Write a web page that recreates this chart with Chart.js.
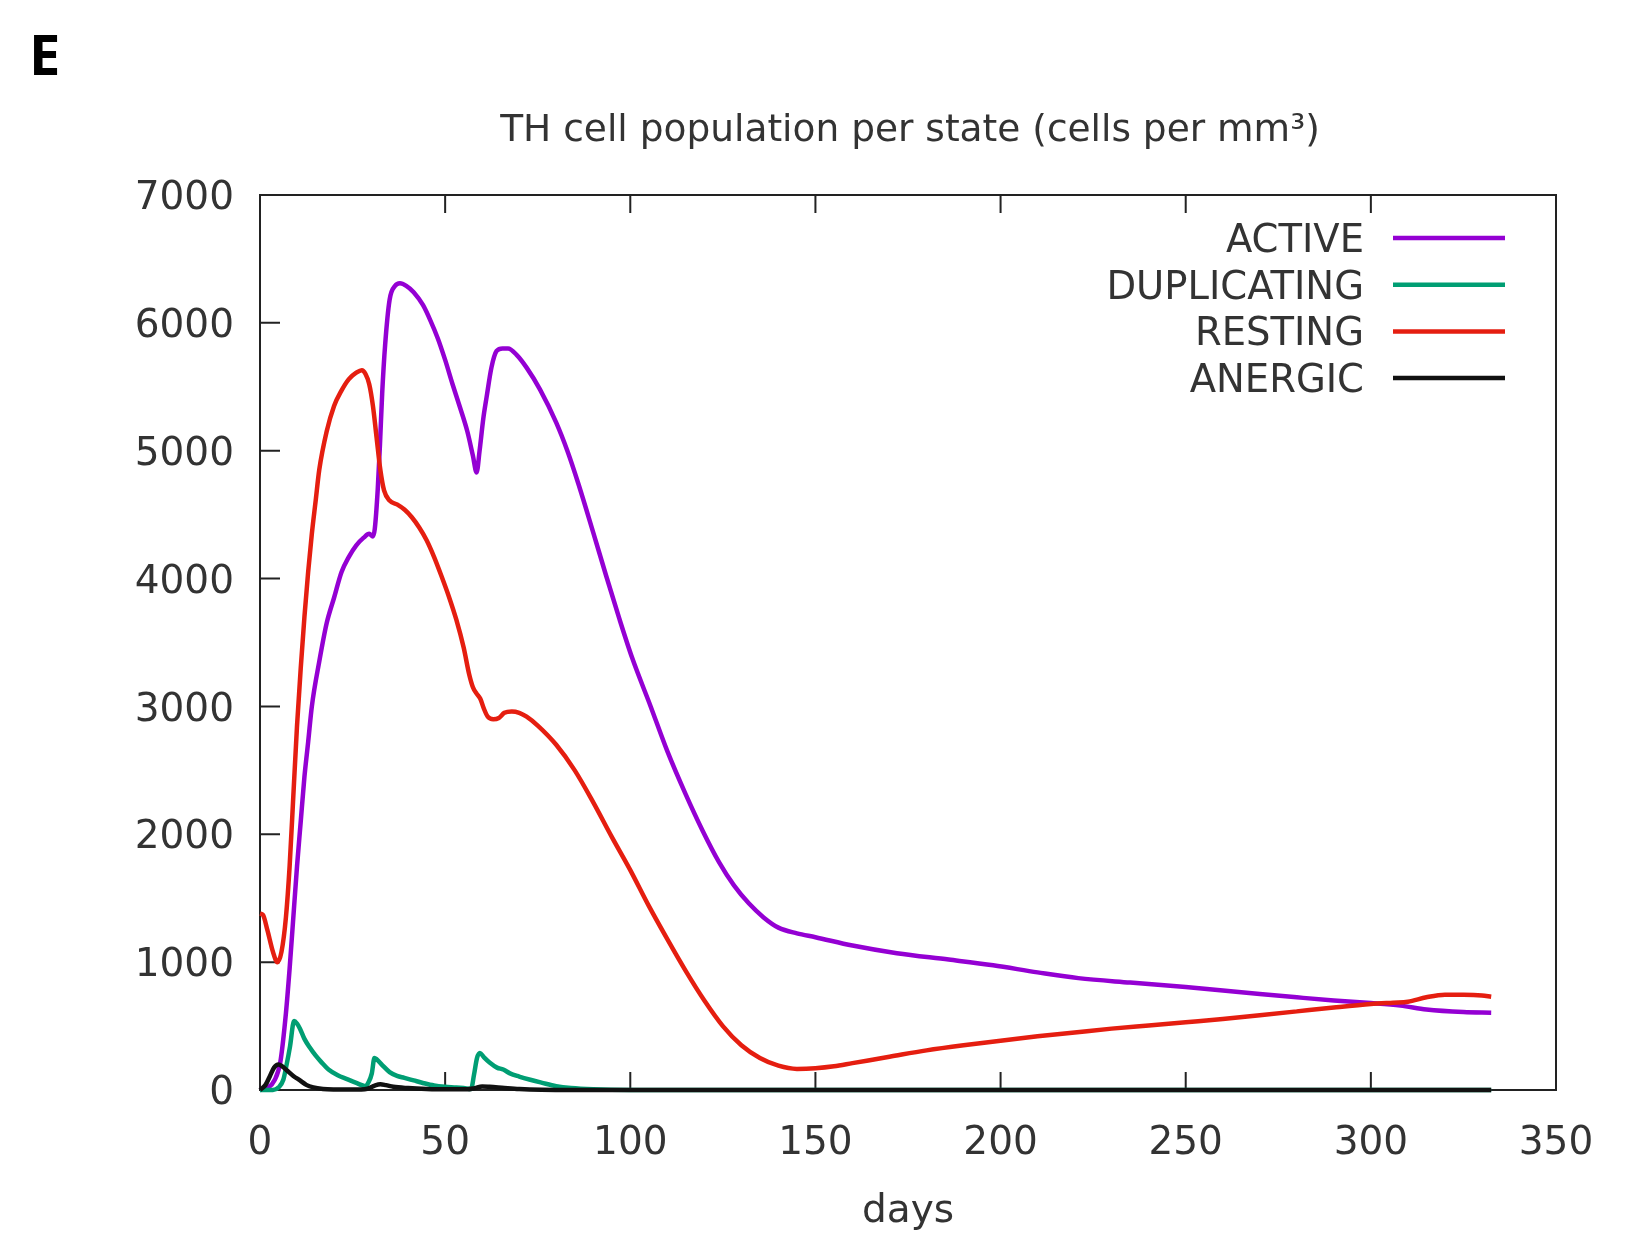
<!DOCTYPE html>
<html>
<head>
<meta charset="utf-8">
<script src="https://cdn.jsdelivr.net/npm/chart.js@4.4.1/dist/chart.umd.min.js"></script>
<style>
  html, body { margin: 0; padding: 0; background: #fff; }
  #wrap { width: 1630px; height: 1234px; position: relative; }
</style>
</head>
<body>
<div id="wrap"><canvas id="myChart"></canvas></div>
<script>
// values (days -> cells per mm3)
const activeDays = [0, 2, 4, 5.5, 7, 8, 9, 10, 11, 12, 13, 14, 16, 18, 20, 22, 24, 26, 28, 29.5, 30.5, 31, 31.8, 32.4, 33, 33.8, 35, 36.5, 37.8, 39.5, 41.5, 44, 46, 48, 50, 52, 54, 56, 57.5, 58.5, 59.3, 60.3, 61.2, 62.5, 63.9, 65.5, 67, 69.3, 72, 75.6, 80, 83, 86, 90, 93.5, 97, 100.5, 105.5, 110, 115, 119.5, 124, 128, 132, 136, 140, 145, 150, 160, 172, 186, 198, 210, 221, 235, 250, 265, 280, 290, 300, 308, 315, 325, 332.5]
const activeVals = [0, 15, 80, 220, 600, 950, 1350, 1750, 2100, 2450, 2720, 3000, 3350, 3650, 3850, 4050, 4170, 4260, 4320, 4350, 4330, 4390, 4700, 5050, 5450, 5830, 6180, 6290, 6310, 6290, 6240, 6140, 6020, 5880, 5710, 5520, 5340, 5150, 4960, 4830, 5000, 5250, 5420, 5650, 5780, 5800, 5800, 5750, 5650, 5480, 5220, 5000, 4740, 4360, 4020, 3690, 3380, 3000, 2650, 2310, 2030, 1780, 1600, 1460, 1350, 1270, 1225, 1195, 1130, 1070, 1020, 975, 920, 875, 840, 805, 765, 725, 700, 680, 660, 630, 610, 605]

const dupDays = [0, 3.5, 5, 6.3, 7.2, 8.1, 9.2, 10, 10.8, 12, 13.5, 15, 16.5, 18.5, 21, 23.5, 26, 28.5, 29.3, 30.2, 30.9, 31.5, 33, 35, 37, 39, 41.5, 44, 47, 50, 53, 55, 57, 57.8, 58.6, 59.4, 60.5, 62, 64, 65.7, 67.5, 70, 73, 76, 80, 84, 90, 100, 332.5]
const dupVals = [0, 0, 20, 80, 200, 340, 540, 520, 480, 400, 330, 270, 220, 160, 115, 85, 55, 30, 60, 130, 250, 240, 195, 140, 110, 95, 75, 55, 35, 25, 20, 15, 8, 120, 250, 290, 255, 215, 175, 160, 130, 105, 80, 58, 30, 15, 5, 0, 0]

const restDays = [0, 0.8, 2, 3.5, 4.7, 5.8, 7, 8, 9, 10, 11, 12, 13, 14, 15, 16, 18, 20, 22, 24, 26, 27.5, 28.5, 29.5, 30.5, 31.5, 32.5, 33.5, 35, 37, 39, 41, 43, 45, 47, 49, 51, 53, 55, 56.5, 57.5, 58.5, 59.5, 60.5, 61.5, 63, 64.5, 66, 68, 70, 72, 75, 80, 85, 90, 95, 100, 105, 110, 115, 120, 125, 130, 135, 140, 145, 150, 155, 160, 170, 180, 190, 200, 210, 220, 230, 240, 250, 260, 270, 280, 290, 300, 306, 310, 315, 320, 325, 330, 332.5]
const restVals = [1380, 1370, 1250, 1080, 1000, 1080, 1350, 1750, 2300, 2850, 3300, 3700, 4050, 4350, 4600, 4850, 5150, 5350, 5470, 5560, 5610, 5630, 5600, 5520, 5350, 5100, 4850, 4690, 4610, 4580, 4540, 4480, 4400, 4300, 4170, 4020, 3860, 3680, 3460, 3250, 3150, 3100, 3060, 2980, 2920, 2900, 2910, 2950, 2960, 2950, 2920, 2850, 2700, 2500, 2250, 1980, 1720, 1440, 1180, 930, 700, 500, 350, 250, 190, 165, 170, 185, 210, 260, 310, 350, 385, 420, 450, 480, 505, 530, 555, 585, 615, 645, 672, 683, 690, 725, 745, 745, 740, 730]

const anergDays = [0, 1.5, 2.7, 3.8, 5, 6, 7.2, 9, 10.8, 12.5, 14.4, 17, 20, 25, 29, 31, 32.5, 34, 36, 40, 45, 50, 56, 58, 60, 62, 66, 70, 76, 85, 332.5]
const anergVals = [0, 40, 110, 175, 200, 185, 155, 110, 75, 40, 20, 8, 4, 3, 10, 35, 45, 38, 25, 15, 8, 5, 5, 15, 28, 25, 16, 8, 2, 0, 0]

const xTicks = [0, 50, 100, 150, 200, 250, 300, 350]
const yTicks = [0, 1000, 2000, 3000, 4000, 5000, 6000, 7000]

const pts = (xs, ys) => xs.map((d, i) => ({ x: d, y: ys[i] }))

Chart.defaults.font.family = 'DejaVu Sans'
Chart.defaults.font.size = 39
Chart.defaults.color = '#333'

// border, inward ticks (bottom, top and left like gnuplot)
const frameAndTicks = {
  id: 'frameAndTicks',
  beforeDatasetsDraw(chart) {
    const { ctx, chartArea: a, scales: { x, y } } = chart
    ctx.save()
    ctx.strokeStyle = '#222'
    ctx.lineWidth = 2
    ctx.strokeRect(a.left, a.top, a.right - a.left, a.bottom - a.top)
    ctx.beginPath()
    x.ticks.forEach(t => {
      const px = x.getPixelForValue(t.value)
      if (px <= a.left + 1 || px >= a.right - 1) return
      ctx.moveTo(px, a.bottom); ctx.lineTo(px, a.bottom - 18)
      ctx.moveTo(px, a.top); ctx.lineTo(px, a.top + 18)
    })
    y.ticks.forEach(t => {
      const py = y.getPixelForValue(t.value)
      if (py <= a.top + 1 || py >= a.bottom - 1) return
      ctx.moveTo(a.left, py); ctx.lineTo(a.left + 20, py)
    })
    ctx.stroke()
    ctx.restore()
  }
}

// title, panel letter and the right-aligned legend
const labelsPlugin = {
  id: 'labelsPlugin',
  afterDraw(chart) {
    const { ctx } = chart
    ctx.save()
    ctx.fillStyle = '#000'
    ctx.font = 'bold 56px "Open Sans"'
    ctx.textAlign = 'left'
    ctx.textBaseline = 'alphabetic'
    ctx.fillText('E', 29, 75)

    ctx.fillStyle = '#333'
    ctx.font = '37.5px "DejaVu Sans"'
    ctx.textAlign = 'center'
    ctx.fillText('TH cell population per state (cells per mm³)', 910, 141)

    ctx.font = '38.5px "DejaVu Sans"'
    ctx.textAlign = 'right'
    chart.data.datasets.forEach((ds, i) => {
      const yy = 238 + i * 46.7
      ctx.fillStyle = '#333'
      ctx.fillText(ds.label, 1364, yy + 14)
      ctx.strokeStyle = ds.borderColor
      ctx.lineWidth = 4.5
      ctx.beginPath()
      ctx.moveTo(1393, yy)
      ctx.lineTo(1505, yy)
      ctx.stroke()
    })
    ctx.restore()
  }
}

const ctx = document.getElementById('myChart')
const line = (label, data, color, order) => ({
  label: label,
  data: data,
  borderColor: color,
  backgroundColor: color,
  borderWidth: 4.5,
  pointRadius: 0,
  cubicInterpolationMode: 'monotone',
  clip: 6,
  order: order
})

new Chart(ctx, {
  type: 'line',
  data: {
    datasets: [
      line('ACTIVE', pts(activeDays, activeVals), '#9400d3', 4),
      line('DUPLICATING', pts(dupDays, dupVals), '#009e73', 3),
      line('RESTING', pts(restDays, restVals), '#e51e10', 2),
      line('ANERGIC', pts(anergDays, anergVals), '#111', 1)
    ]
  },
  options: {
    responsive: true,
    maintainAspectRatio: false,
    animation: false,
    layout: { padding: { left: 0, top: 195, right: 74, bottom: 0 } },
    plugins: { legend: { display: false }, tooltip: { enabled: false } },
    scales: {
      x: {
        type: 'linear',
        min: 0, max: 350,
        afterBuildTicks: s => { s.ticks = xTicks.map(v => ({ value: v })) },
        afterFit: s => { s.height = 144 },
        grid: { display: false, drawTicks: false },
        border: { display: false },
        ticks: { padding: 30, maxRotation: 0, autoSkip: false, callback: v => String(v) },
        title: { display: true, text: 'days', padding: { top: 0, bottom: -1 } }
      },
      y: {
        min: 0, max: 7000,
        afterBuildTicks: s => { s.ticks = yTicks.map(v => ({ value: v })) },
        afterFit: s => { s.width = 260 },
        grid: { display: false, drawTicks: false },
        border: { display: false },
        ticks: { padding: 26, labelOffset: 4, callback: v => String(v) }
      }
    }
  },
  plugins: [frameAndTicks, labelsPlugin]
})
</script>
</body>
</html>
